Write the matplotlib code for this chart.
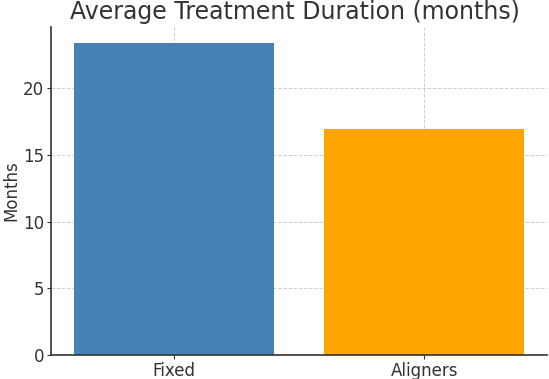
import matplotlib
matplotlib.use("Agg")
import matplotlib.pyplot as plt

treatments = ["Fixed", "Aligners"]
avg_months = [23.4, 16.9]
colours = ["steelblue", "orange"]

plt.rcParams['font.family'] = ['DejaVu Sans']
text_col = "#333333"

fig = plt.figure(figsize=(5.49, 3.79), dpi=100)
ax = fig.add_axes([0.0929, 0.063, 0.9035, 0.866])

ax.bar(treatments, avg_months, color=colours, zorder=2)

ax.set_title("Average Treatment Duration (months)", fontsize=17, color=text_col,
             pad=6, x=0.492)
ax.set_ylabel("Months", fontsize=12, color=text_col, labelpad=2)
ax.tick_params(axis="both", labelsize=12, labelcolor=text_col, color=text_col,
               length=3, pad=2)
ax.grid(True, linestyle="--", color="#b0b0b0", alpha=0.6, linewidth=0.7, zorder=3)

for side in ["top", "right"]:
    ax.spines[side].set_visible(False)
for side in ["left", "bottom"]:
    ax.spines[side].set_color(text_col)
    ax.spines[side].set_linewidth(1.2)

plt.savefig("out.png", dpi=100)
